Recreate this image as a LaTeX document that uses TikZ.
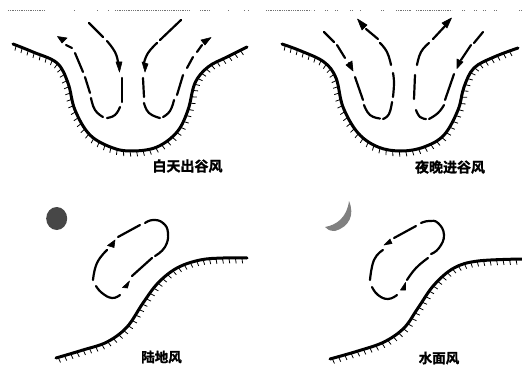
\documentclass[tikz,border=0pt]{standalone}
\usepackage{fontspec}
\newfontfamily\cjk{Noto Sans CJK SC}[BoldFont={* Bold},BoldFeatures={FakeBold=1.5}]
\usetikzlibrary{decorations.markings}
\tikzset{
  windline/.style={line width=2.2pt,black,line cap=round},
  groundline/.style={line width=3pt,black,line cap=round},
  hatchline/.style={decorate,decoration={markings,mark=between positions 0.01 and 0.99 step 6.5pt with {\draw[line width=.8pt,black] (0,0) -- (.8pt,-5.5pt);}}},
  tiplabel/.style={font=\cjk\bfseries\fontsize{14}{14}\selectfont,inner sep=0pt},
  tiplabelsmall/.style={font=\cjk\bfseries\fontsize{13.5}{14}\selectfont,inner sep=0pt},
  speck/.style={line width=1pt,black!55,dash pattern=on 1pt off .8pt},
}
\newcommand{\wind}[1]{\draw[windline] plot[smooth,tension=.8] coordinates {#1};}
\newcommand{\ground}[1]{
  \path[hatchline] plot[smooth,tension=.6] coordinates {#1};
  \draw[groundline] plot[smooth,tension=.6] coordinates {#1};}
\newcommand{\tip}[3]{\filldraw[black,line width=.6pt,line join=round] #1 -- #2 -- #3 -- cycle;}
\begin{document}
\begin{tikzpicture}[x=1pt,y=-1pt]
\useasboundingbox (0,0) rectangle (522,369);
% top specks
\foreach \a/\b in {8/45,74/75,97/98,108/109,115/190,200/210,228/229,244/245,248/249,266/311,314/315,325/327,335/338,350/352,360/361,381/383,396/412,416/452,462/464,474/476,483/485,494/496,519/521}
  \draw[speck] (\a,10.5) -- (\b,10.5);

% ---- top left
\begin{scope}
\ground{(13,44)(33,52)(57,63)(68,83)(75,110)(90,135)(113,148)(133,151)(157,147)(177,132)(188,110)(195,83)(208,67)(227,57)(247,47)}
\wind{(89,23)(103,37)}
\wind{(107,41)(115,52)(118,62)}
\wind{(122,78)(122,102)}
\wind{(120,107)(115,115)(107,118)}
\wind{(103,117)(95,110)(91,98)}
\wind{(90,93)(85,77)}
\wind{(83,72)(75,53)}
\wind{(72,48)(66,45)}
\tip{(57.5,36.5)}{(67,38)}{(62,43)}
\wind{(181,20)(160,40)}
\wind{(157,43)(148,53)(144,63)}
\wind{(143,78)(144,97)}
\wind{(144,103)(149,113)(160,118)}
\wind{(163,117)(170,111)(174,100)}
\wind{(177,95)(183,75)}
\wind{(187,68)(193,57)}
\wind{(197,52)(202,45)}
\tip{(211,37.5)}{(201,40)}{(205,45)}
\tip{(119.5,72)}{(116,62)}{(122,62)}
\tip{(145,72)}{(142,62)}{(148,64)}
\node[tiplabel] (t1) at (187.5,166) {白天出谷风};
\end{scope}

% ---- top right
\begin{scope}[shift={(261,0)}]
\ground{(21,44)(40,51)(63,62)(75,78)(82,107)(97,133)(117,147)(140,151)(163,147)(183,135)(197,110)(203,87)(213,68)(233,57)(257,48)}
\wind{(63,32)(73,42)}
\wind{(76,45)(84,58)}
\wind{(88,63)(91,68)}
\tip{(92,71)}{(85,65)}{(91,61)}
\wind{(94,77)(102,100)}
\wind{(103,105)(109,115)(119,118.5)}
\wind{(122,119)(128,114)(131,102)}
\wind{(132,97)(133,83)(132,73)}
\wind{(130,65)(126,52)(119,43)}
\wind{(117,39)(105,29)}
\wind{(103,27)(99,23)}
\tip{(96.5,19)}{(106,25)}{(101,30)}
\wind{(222,32)(213,43)}
\wind{(210,45)(200,60)}
\tip{(196,68.5)}{(196,59)}{(202,62)}
\wind{(193,74)(184,100)}
\wind{(183,105)(177,113)(168,119)}
\wind{(165,119)(159,117)(155,110)}
\wind{(153,99)(154,75)}
\wind{(156,65)(160,52)(168,43)}
\wind{(172,39)(185,25)}
\tip{(190.5,18)}{(181,23)}{(186,28)}
\node[tiplabel] (t2) at (189,167) {夜晚进谷风};
\end{scope}

% ---- bottom left
\begin{scope}[shift={(0,185)}]
\fill[black!72] (56.7,33.5) ellipse (10.5 and 11.5);
\ground{(56,173)(83,165)(107,157)(127,142)(143,118)(158,98)(177,83)(200,75)(223,73)(247,73)}
\wind{(96,101)(102,108)(112,113)(120,110)}
\wind{(132,91)(152,73)}
\wind{(155,71)(165,62)(168,48)(163,38)(153,35)(145,38)}
\wind{(140,40)(118,52)}
\wind{(107,65)(97,78)(93,95)}
\tip{(107.5,60.5)}{(115,55)}{(114,62.5)}
\tip{(122.5,102.5)}{(129.5,96)}{(127.5,103)}
\node[tiplabelsmall] (t3) at (161.5,172) {陆地风};
\end{scope}

% ---- bottom right
\begin{scope}[shift={(261,185)}]
\fill[black!50] (88,16) .. controls (94,30) and (88,42) .. (74,46) .. controls (68,46) and (66,44) .. (64,42) .. controls (76,40) and (86,32) .. (88,16) -- cycle;
\ground{(69,174)(97,166)(123,157)(143,143)(157,123)(173,100)(193,83)(217,76)(261,74)}
\wind{(111,102)(117,110)(127,114)(136,110)}
\wind{(146,95)(155,83)(167,73)}
\wind{(170,69)(178,63)(183,50)(177,38)(168,36)(160,38)}
\wind{(155,41)(133,53)}
\wind{(122,65)(113,75)(109,95)}
\tip{(123,60)}{(129,54)}{(131,58.5)}
\tip{(139.5,105)}{(144.5,97.5)}{(144.5,105)}
\node[tiplabelsmall] (t4) at (178,173) {水面风};
\end{scope}
\end{tikzpicture}
\end{document}
